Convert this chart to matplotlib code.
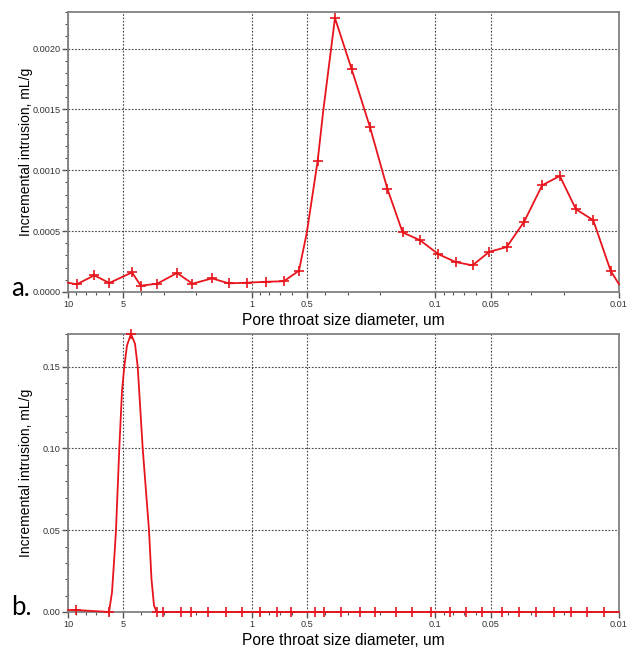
import matplotlib
matplotlib.use("Agg")
import matplotlib.pyplot as plt
from matplotlib.ticker import FixedLocator, FixedFormatter, MultipleLocator, LogLocator, NullFormatter, FormatStrFormatter

plt.rcParams['font.family'] = ['Liberation Sans', 'DejaVu Sans']

# sample a: pore throat diameter (um) and incremental intrusion (mL/g)
a_diam = [10, 8.97, 7.19, 5.96, 4.48, 4.02, 3.27, 2.55, 2.10, 1.645, 1.334, 1.065,
          0.839, 0.669, 0.553, 0.502, 0.437, 0.4076, 0.352, 0.2855, 0.227, 0.1827,
          0.1507, 0.1213, 0.0964, 0.0776, 0.0627, 0.0509, 0.0409, 0.0328, 0.0262,
          0.0210, 0.01717, 0.01382, 0.01111, 0.01]
a_incr = [0.000076, 0.000063, 0.000137, 0.000074, 0.000161, 0.000052, 0.000068,
          0.000156, 0.000068, 0.000112, 0.000071, 0.000076, 0.000084, 0.000088,
          0.000175, 0.00048, 0.00108, 0.00149, 0.00225, 0.00183, 0.001355, 0.00085,
          0.000489, 0.000426, 0.000311, 0.000246, 0.000219, 0.00033, 0.000369,
          0.000579, 0.000877, 0.000953, 0.00068, 0.00059, 0.000175, 0.000063]
# points on the curve that carry no "+" marker
a_unmarked = [10, 0.502, 0.4076, 0.01]

# sample b
b_diam = [10, 9.08, 5.98, 5.762, 5.584, 5.48, 5.258, 5.083, 4.938, 4.774, 4.54,
          4.318, 4.174, 4.03, 3.92, 3.623, 3.511, 3.403, 3.29, 3.03, 2.435, 2.14,
          1.723, 1.385, 1.125, 0.901, 0.725, 0.609, 0.452, 0.4026, 0.328, 0.2573,
          0.2132, 0.1639, 0.1346, 0.1061, 0.0833, 0.0684, 0.0556, 0.0432, 0.0351,
          0.0283, 0.02254, 0.01827, 0.0150, 0.01204, 0.01]
b_incr = [0.0012, 0.0012, 0.0, 0.012, 0.035, 0.05, 0.10, 0.135, 0.15, 0.163, 0.17,
          0.164, 0.15, 0.122, 0.10, 0.05, 0.02, 0.004, 0.0, 0.0, 0.0, 0.0, 0.0, 0.0,
          0.0, 0.0, 0.0, 0.0, 0.0, 0.0, 0.0, 0.0, 0.0, 0.0, 0.0, 0.0, 0.0, 0.0, 0.0,
          0.0, 0.0, 0.0, 0.0, 0.0, 0.0, 0.0, 0.0]
b_unmarked = [10, 5.762, 5.584, 5.48, 5.258, 5.083, 4.938, 4.774, 4.318, 4.174,
              4.03, 3.92, 3.623, 3.511, 3.403, 0.01]

x_ticks = [10, 5, 1, 0.5, 0.1, 0.05, 0.01]
x_labels = ['10', '5', '1', '0.5', '0.1', '0.05', '0.01']

fig = plt.figure(figsize=(6.28, 6.48), dpi=100)
ax_a = fig.add_axes([0.1083, 0.5494, 0.8774, 0.4321])
ax_b = fig.add_axes([0.1083, 0.0556, 0.8774, 0.4290])


def draw(ax, diam, incr, unmarked, ymax, major, minor, fmt, tag, tag_y):
    marks = [i for i, d in enumerate(diam) if d not in unmarked]
    ax.plot(diam, incr, color='#e8141c', lw=1.3, marker='+', ms=6.5, mew=1.2,
            markevery=marks, clip_on=False, zorder=3)
    ax.set_xscale('log')
    ax.set_xlim(10, 0.01)
    ax.set_ylim(0, ymax)
    ax.xaxis.set_major_locator(FixedLocator(x_ticks))
    ax.xaxis.set_major_formatter(FixedFormatter(x_labels))
    ax.xaxis.set_minor_locator(LogLocator(base=10, subs=(2, 3, 4, 6, 7, 8, 9)))
    ax.xaxis.set_minor_formatter(NullFormatter())
    ax.yaxis.set_major_locator(MultipleLocator(major))
    ax.yaxis.set_minor_locator(MultipleLocator(minor))
    ax.yaxis.set_major_formatter(FormatStrFormatter(fmt))
    ax.tick_params(which='major', length=4, width=1, color='#555555',
                   labelsize=6.6, labelcolor='#333333', pad=1.5)
    ax.tick_params(which='minor', length=2.5, width=0.8, color='#555555')
    ax.grid(True, which='major', ls=(0, (1.5, 1.5)), color='#444444', lw=0.8)
    for s in ax.spines.values():
        s.set_color('#808080')
        s.set_linewidth(1.3)
    ax.set_xlabel('Pore throat size diameter, um', fontsize=11.2, labelpad=3)
    ax.set_ylabel('Incremental intrusion, mL/g', fontsize=10)
    ax.yaxis.set_label_coords(-0.064, 0.5)
    ax.text(-0.1035, tag_y, tag, transform=ax.transAxes, fontsize=18.5,
            family=['Lato', 'DejaVu Sans'], ha='left', va='baseline')


draw(ax_a, a_diam, a_incr, a_unmarked, 0.0023, 0.0005, 0.0001, '%.4f', 'a.', -0.014)
draw(ax_b, b_diam, b_incr, b_unmarked, 0.17, 0.05, 0.01, '%.2f', 'b.', -0.011)

fig.savefig('out.png', dpi=100)
